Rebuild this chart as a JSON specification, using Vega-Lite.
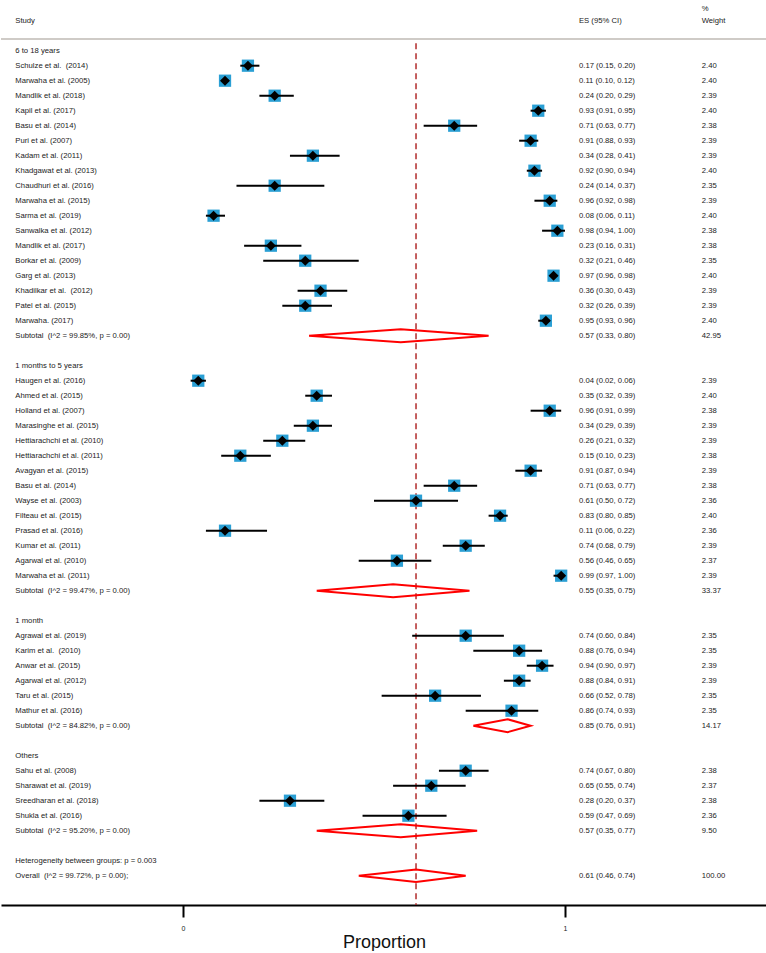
{
  "$schema": "https://vega.github.io/schema/vega-lite/v6.json",
  "width": 766,
  "height": 905,
  "padding": 0,
  "background": "white",
  "config": {
    "view": {"stroke": null},
    "text": {"font": "Liberation Sans", "fontSize": 7.7, "color": "#222222"}
  },
  "datasets": {
    "rows": [
      {"row": -2.75, "type": "header", "label": "", "ci": "", "w": "%"},
      {"row": -2, "type": "header", "label": "Study", "ci": "ES (95% CI)", "w": "Weight"},
      {"row": 0, "type": "group", "label": "6 to 18 years", "ci": "", "w": ""},
      {"row": 1, "type": "study", "label": "Schulze et al.\u00a0 (2014)", "es": 0.17, "lci": 0.15, "uci": 0.20, "ci": "0.17 (0.15, 0.20)", "w": "2.40"},
      {"row": 2, "type": "study", "label": "Marwaha et al. (2005)", "es": 0.11, "lci": 0.10, "uci": 0.12, "ci": "0.11 (0.10, 0.12)", "w": "2.40"},
      {"row": 3, "type": "study", "label": "Mandlik et al. (2018)", "es": 0.24, "lci": 0.20, "uci": 0.29, "ci": "0.24 (0.20, 0.29)", "w": "2.39"},
      {"row": 4, "type": "study", "label": "Kapil et al. (2017)", "es": 0.93, "lci": 0.91, "uci": 0.95, "ci": "0.93 (0.91, 0.95)", "w": "2.40"},
      {"row": 5, "type": "study", "label": "Basu et al. (2014)", "es": 0.71, "lci": 0.63, "uci": 0.77, "ci": "0.71 (0.63, 0.77)", "w": "2.38"},
      {"row": 6, "type": "study", "label": "Puri et al. (2007)", "es": 0.91, "lci": 0.88, "uci": 0.93, "ci": "0.91 (0.88, 0.93)", "w": "2.39"},
      {"row": 7, "type": "study", "label": "Kadam et al. (2011)", "es": 0.34, "lci": 0.28, "uci": 0.41, "ci": "0.34 (0.28, 0.41)", "w": "2.39"},
      {"row": 8, "type": "study", "label": "Khadgawat et al. (2013)", "es": 0.92, "lci": 0.90, "uci": 0.94, "ci": "0.92 (0.90, 0.94)", "w": "2.40"},
      {"row": 9, "type": "study", "label": "Chaudhuri et al. (2016)", "es": 0.24, "lci": 0.14, "uci": 0.37, "ci": "0.24 (0.14, 0.37)", "w": "2.35"},
      {"row": 10, "type": "study", "label": "Marwaha et al. (2015)", "es": 0.96, "lci": 0.92, "uci": 0.98, "ci": "0.96 (0.92, 0.98)", "w": "2.39"},
      {"row": 11, "type": "study", "label": "Sarma et al. (2019)", "es": 0.08, "lci": 0.06, "uci": 0.11, "ci": "0.08 (0.06, 0.11)", "w": "2.40"},
      {"row": 12, "type": "study", "label": "Sanwalka et al. (2012)", "es": 0.98, "lci": 0.94, "uci": 1.00, "ci": "0.98 (0.94, 1.00)", "w": "2.38"},
      {"row": 13, "type": "study", "label": "Mandlik et al. (2017)", "es": 0.23, "lci": 0.16, "uci": 0.31, "ci": "0.23 (0.16, 0.31)", "w": "2.38"},
      {"row": 14, "type": "study", "label": "Borkar et al. (2009)", "es": 0.32, "lci": 0.21, "uci": 0.46, "ci": "0.32 (0.21, 0.46)", "w": "2.35"},
      {"row": 15, "type": "study", "label": "Garg et al. (2013)", "es": 0.97, "lci": 0.96, "uci": 0.98, "ci": "0.97 (0.96, 0.98)", "w": "2.40"},
      {"row": 16, "type": "study", "label": "Khadilkar et al.\u00a0 (2012)", "es": 0.36, "lci": 0.30, "uci": 0.43, "ci": "0.36 (0.30, 0.43)", "w": "2.39"},
      {"row": 17, "type": "study", "label": "Patel et al. (2015)", "es": 0.32, "lci": 0.26, "uci": 0.39, "ci": "0.32 (0.26, 0.39)", "w": "2.39"},
      {"row": 18, "type": "study", "label": "Marwaha. (2017)", "es": 0.95, "lci": 0.93, "uci": 0.96, "ci": "0.95 (0.93, 0.96)", "w": "2.40"},
      {"row": 19, "type": "subtotal", "label": "Subtotal\u00a0 (I^2 = 99.85%, p = 0.00)", "es": 0.57, "lci": 0.33, "uci": 0.80, "ci": "0.57 (0.33, 0.80)", "w": "42.95"},
      {"row": 21, "type": "group", "label": "1 months to 5 years", "ci": "", "w": ""},
      {"row": 22, "type": "study", "label": "Haugen et al. (2016)", "es": 0.04, "lci": 0.02, "uci": 0.06, "ci": "0.04 (0.02, 0.06)", "w": "2.39"},
      {"row": 23, "type": "study", "label": "Ahmed et al. (2015)", "es": 0.35, "lci": 0.32, "uci": 0.39, "ci": "0.35 (0.32, 0.39)", "w": "2.40"},
      {"row": 24, "type": "study", "label": "Holland et al. (2007)", "es": 0.96, "lci": 0.91, "uci": 0.99, "ci": "0.96 (0.91, 0.99)", "w": "2.38"},
      {"row": 25, "type": "study", "label": "Marasinghe et al. (2015)", "es": 0.34, "lci": 0.29, "uci": 0.39, "ci": "0.34 (0.29, 0.39)", "w": "2.39"},
      {"row": 26, "type": "study", "label": "Hettiarachchi et al. (2010)", "es": 0.26, "lci": 0.21, "uci": 0.32, "ci": "0.26 (0.21, 0.32)", "w": "2.39"},
      {"row": 27, "type": "study", "label": "Hettiarachchi et al. (2011)", "es": 0.15, "lci": 0.10, "uci": 0.23, "ci": "0.15 (0.10, 0.23)", "w": "2.38"},
      {"row": 28, "type": "study", "label": "Avagyan et al. (2015)", "es": 0.91, "lci": 0.87, "uci": 0.94, "ci": "0.91 (0.87, 0.94)", "w": "2.39"},
      {"row": 29, "type": "study", "label": "Basu et al. (2014)", "es": 0.71, "lci": 0.63, "uci": 0.77, "ci": "0.71 (0.63, 0.77)", "w": "2.38"},
      {"row": 30, "type": "study", "label": "Wayse et al. (2003)", "es": 0.61, "lci": 0.50, "uci": 0.72, "ci": "0.61 (0.50, 0.72)", "w": "2.36"},
      {"row": 31, "type": "study", "label": "Filteau et al. (2015)", "es": 0.83, "lci": 0.80, "uci": 0.85, "ci": "0.83 (0.80, 0.85)", "w": "2.40"},
      {"row": 32, "type": "study", "label": "Prasad et al. (2016)", "es": 0.11, "lci": 0.06, "uci": 0.22, "ci": "0.11 (0.06, 0.22)", "w": "2.36"},
      {"row": 33, "type": "study", "label": "Kumar et al. (2011)", "es": 0.74, "lci": 0.68, "uci": 0.79, "ci": "0.74 (0.68, 0.79)", "w": "2.39"},
      {"row": 34, "type": "study", "label": "Agarwal et al. (2010)", "es": 0.56, "lci": 0.46, "uci": 0.65, "ci": "0.56 (0.46, 0.65)", "w": "2.37"},
      {"row": 35, "type": "study", "label": "Marwaha et al. (2011)", "es": 0.99, "lci": 0.97, "uci": 1.00, "ci": "0.99 (0.97, 1.00)", "w": "2.39"},
      {"row": 36, "type": "subtotal", "label": "Subtotal\u00a0 (I^2 = 99.47%, p = 0.00)", "es": 0.55, "lci": 0.35, "uci": 0.75, "ci": "0.55 (0.35, 0.75)", "w": "33.37"},
      {"row": 38, "type": "group", "label": "1 month", "ci": "", "w": ""},
      {"row": 39, "type": "study", "label": "Agrawal et al. (2019)", "es": 0.74, "lci": 0.60, "uci": 0.84, "ci": "0.74 (0.60, 0.84)", "w": "2.35"},
      {"row": 40, "type": "study", "label": "Karim et al.\u00a0 (2010)", "es": 0.88, "lci": 0.76, "uci": 0.94, "ci": "0.88 (0.76, 0.94)", "w": "2.35"},
      {"row": 41, "type": "study", "label": "Anwar et al. (2015)", "es": 0.94, "lci": 0.90, "uci": 0.97, "ci": "0.94 (0.90, 0.97)", "w": "2.39"},
      {"row": 42, "type": "study", "label": "Agarwal et al. (2012)", "es": 0.88, "lci": 0.84, "uci": 0.91, "ci": "0.88 (0.84, 0.91)", "w": "2.39"},
      {"row": 43, "type": "study", "label": "Taru et al. (2015)", "es": 0.66, "lci": 0.52, "uci": 0.78, "ci": "0.66 (0.52, 0.78)", "w": "2.35"},
      {"row": 44, "type": "study", "label": "Mathur et al. (2016)", "es": 0.86, "lci": 0.74, "uci": 0.93, "ci": "0.86 (0.74, 0.93)", "w": "2.35"},
      {"row": 45, "type": "subtotal", "label": "Subtotal\u00a0 (I^2 = 84.82%, p = 0.00)", "es": 0.85, "lci": 0.76, "uci": 0.91, "ci": "0.85 (0.76, 0.91)", "w": "14.17"},
      {"row": 47, "type": "group", "label": "Others", "ci": "", "w": ""},
      {"row": 48, "type": "study", "label": "Sahu et al. (2008)", "es": 0.74, "lci": 0.67, "uci": 0.80, "ci": "0.74 (0.67, 0.80)", "w": "2.38"},
      {"row": 49, "type": "study", "label": "Sharawat et al. (2019)", "es": 0.65, "lci": 0.55, "uci": 0.74, "ci": "0.65 (0.55, 0.74)", "w": "2.37"},
      {"row": 50, "type": "study", "label": "Sreedharan et al. (2018)", "es": 0.28, "lci": 0.20, "uci": 0.37, "ci": "0.28 (0.20, 0.37)", "w": "2.38"},
      {"row": 51, "type": "study", "label": "Shukla et al. (2016)", "es": 0.59, "lci": 0.47, "uci": 0.69, "ci": "0.59 (0.47, 0.69)", "w": "2.36"},
      {"row": 52, "type": "subtotal", "label": "Subtotal\u00a0 (I^2 = 95.20%, p = 0.00)", "es": 0.57, "lci": 0.35, "uci": 0.77, "ci": "0.57 (0.35, 0.77)", "w": "9.50"},
      {"row": 54, "type": "group", "label": "Heterogeneity between groups: p = 0.003", "ci": "", "w": ""},
      {"row": 55, "type": "overall", "label": "Overall\u00a0 (I^2 = 99.72%, p = 0.00);", "es": 0.61, "lci": 0.46, "uci": 0.74, "ci": "0.61 (0.46, 0.74)", "w": "100.00"}
    ],
    "diamonds": [
      {"g": "s1", "k": 0, "y": 19, "x": 0.33}, {"g": "s1", "k": 1, "y": 18.57, "x": 0.57}, {"g": "s1", "k": 2, "y": 19, "x": 0.80}, {"g": "s1", "k": 3, "y": 19.43, "x": 0.57}, {"g": "s1", "k": 4, "y": 19, "x": 0.33},
      {"g": "s2", "k": 0, "y": 36, "x": 0.35}, {"g": "s2", "k": 1, "y": 35.57, "x": 0.55}, {"g": "s2", "k": 2, "y": 36, "x": 0.75}, {"g": "s2", "k": 3, "y": 36.43, "x": 0.55}, {"g": "s2", "k": 4, "y": 36, "x": 0.35},
      {"g": "s3", "k": 0, "y": 45, "x": 0.76}, {"g": "s3", "k": 1, "y": 44.57, "x": 0.85}, {"g": "s3", "k": 2, "y": 45, "x": 0.91}, {"g": "s3", "k": 3, "y": 45.43, "x": 0.85}, {"g": "s3", "k": 4, "y": 45, "x": 0.76},
      {"g": "s4", "k": 0, "y": 52, "x": 0.35}, {"g": "s4", "k": 1, "y": 51.57, "x": 0.57}, {"g": "s4", "k": 2, "y": 52, "x": 0.77}, {"g": "s4", "k": 3, "y": 52.43, "x": 0.57}, {"g": "s4", "k": 4, "y": 52, "x": 0.35},
      {"g": "ov", "k": 0, "y": 55, "x": 0.46}, {"g": "ov", "k": 1, "y": 54.58, "x": 0.61}, {"g": "ov", "k": 2, "y": 55, "x": 0.74}, {"g": "ov", "k": 3, "y": 55.42, "x": 0.61}, {"g": "ov", "k": 4, "y": 55, "x": 0.46}
    ]
  },
  "encoding": {
    "y": {"field": "row", "type": "quantitative", "scale": {"domain": [-3.38, 56.953], "reverse": true, "nice": false, "zero": false}, "axis": null}
  },
  "layer": [
    {
      "data": {"values": [{"row": -0.78}]},
      "mark": {"type": "rule", "color": "#cfcbc7", "strokeWidth": 2},
      "encoding": {"y": {"field": "row", "type": "quantitative"}}
    },
    {
      "data": {"values": [{"row": -0.5, "row2": 56.953, "v": 0.61}]},
      "mark": {"type": "rule", "color": "#b22c2c", "strokeWidth": 1.5, "strokeDash": [6, 4]},
      "encoding": {
        "x": {"field": "v", "type": "quantitative", "scale": {"domain": [-0.47644, 1.5288], "nice": false, "zero": false},
          "axis": {"values": [0, 1], "format": "d", "title": "Proportion", "grid": false, "domainColor": "#000000", "domainWidth": 2, "tickColor": "#000000", "tickWidth": 2, "tickSize": 12, "labelFont": "Liberation Sans", "labelFontSize": 7, "labelColor": "#222222", "labelPadding": 7, "titleFont": "Liberation Sans", "titleFontSize": 18, "titleFontWeight": "normal", "titleColor": "#111111", "titlePadding": 2}},
        "y": {"field": "row", "type": "quantitative"},
        "y2": {"field": "row2"}
      }
    },
    {
      "data": {"name": "rows"},
      "transform": [{"filter": "datum.type === 'study'"}],
      "mark": {"type": "point", "shape": "square", "filled": true, "size": 150, "color": "#2a9fd4", "opacity": 1},
      "encoding": {"x": {"field": "es", "type": "quantitative"}, "y": {"field": "row", "type": "quantitative"}}
    },
    {
      "data": {"name": "rows"},
      "transform": [{"filter": "datum.type === 'study'"}],
      "mark": {"type": "rule", "color": "#000000", "strokeWidth": 2},
      "encoding": {"x": {"field": "lci", "type": "quantitative"}, "x2": {"field": "uci"}, "y": {"field": "row", "type": "quantitative"}}
    },
    {
      "data": {"name": "rows"},
      "transform": [{"filter": "datum.type === 'study'"}],
      "mark": {"type": "point", "shape": "diamond", "filled": true, "size": 100, "color": "#000000", "opacity": 1},
      "encoding": {"x": {"field": "es", "type": "quantitative"}, "y": {"field": "row", "type": "quantitative"}}
    },
    {
      "data": {"name": "diamonds"},
      "mark": {"type": "line", "color": "#ff0000", "strokeWidth": 2, "strokeJoin": "miter"},
      "encoding": {
        "x": {"field": "x", "type": "quantitative"},
        "y": {"field": "y", "type": "quantitative"},
        "detail": {"field": "g"},
        "order": {"field": "k", "type": "quantitative"}
      }
    },
    {
      "data": {"name": "rows"},
      "mark": {"type": "text", "align": "left", "baseline": "middle"},
      "encoding": {"x": {"datum": -0.439, "type": "quantitative"}, "y": {"field": "row", "type": "quantitative"}, "text": {"field": "label"}}
    },
    {
      "data": {"name": "rows"},
      "mark": {"type": "text", "align": "left", "baseline": "middle"},
      "encoding": {"x": {"datum": 1.0366, "type": "quantitative"}, "y": {"field": "row", "type": "quantitative"}, "text": {"field": "ci"}}
    },
    {
      "data": {"name": "rows"},
      "mark": {"type": "text", "align": "left", "baseline": "middle"},
      "encoding": {"x": {"datum": 1.3579, "type": "quantitative"}, "y": {"field": "row", "type": "quantitative"}, "text": {"field": "w"}}
    }
  ]
}
